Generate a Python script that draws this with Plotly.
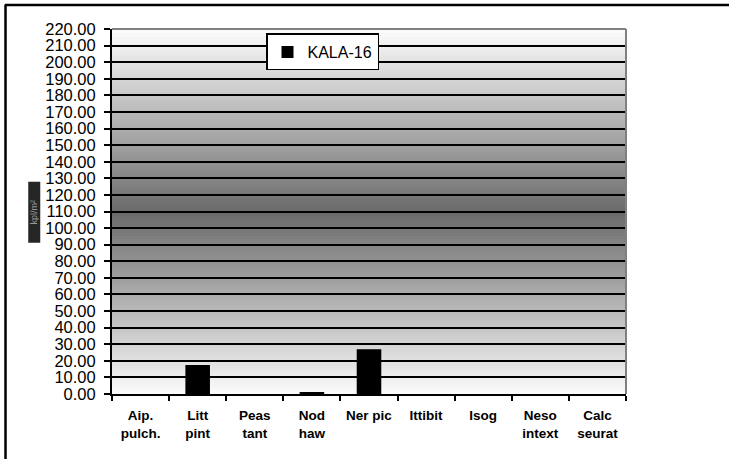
import plotly.graph_objects as go

categories = ["Aip.<br>pulch.", "Litt<br>pint", "Peas<br>tant", "Nod<br>haw", "Ner pic",
              "Ittibit", "Isog", "Neso<br>intext", "Calc<br>seurat"]
values = [0.0, 17.5, 0.0, 1.0, 26.9, 0.0, 0.0, 0.0, 0.0]
series_name = "KALA-16"
y_max = 220
y_step = 10

# plot-area geometry in pixels (for paper-coordinate conversion of decorations)
W, H = 729, 459
L, R, T, B = 112, 103, 28.5, 65
pw, ph = W - L - R, H - T - B

def px(x):
    return (x - L) / pw

def py(y):
    return (H - B - y) / ph

fig = go.Figure()
fig.add_trace(go.Bar(
    x=categories, y=values, name=series_name,
    marker=dict(color="black", line=dict(width=0)),
    width=0.43, showlegend=True,
))

shapes = []
# gradient background bands (white at edges, dark grey at centre)
band = 2
mid = y_max / 2
for i in range(0, y_max, band):
    c = i + band / 2
    t = 1 - abs(c - mid) / mid
    g = int(round(252 - (252 - 106) * t))
    shapes.append(dict(type="rect", xref="paper", yref="y", x0=0, x1=1,
                       y0=i - 0.6, y1=min(i + band + 0.6, y_max),
                       fillcolor=f"rgb({g},{g},{g})", line=dict(width=0), layer="below"))
# grey top and right borders of the plot area
shapes.append(dict(type="line", xref="paper", yref="paper", x0=0, x1=1, y0=1, y1=1,
                   line=dict(color="#808080", width=2), layer="above"))
shapes.append(dict(type="line", xref="paper", yref="paper", x0=1, x1=1, y0=0, y1=1,
                   line=dict(color="#808080", width=2), layer="above"))
# outer frame (top and left visible)
shapes.append(dict(type="line", xref="paper", yref="paper", x0=px(5), x1=px(740), y0=py(4.5), y1=py(4.5),
                   line=dict(color="black", width=2.5), layer="above"))
shapes.append(dict(type="line", xref="paper", yref="paper", x0=px(5.5), x1=px(5.5), y0=py(4), y1=py(470),
                   line=dict(color="black", width=2.5), layer="above"))

fig.update_layout(
    width=W, height=H,
    margin=dict(l=L, r=R, t=T, b=B, pad=0, autoexpand=False),
    paper_bgcolor="white",
    plot_bgcolor="white",
    font=dict(family="Liberation Sans, Arial, sans-serif", color="black"),
    shapes=shapes,
    bargap=0.57,
    legend=dict(x=px(266), y=py(33), xanchor="left", yanchor="top",
                bgcolor="white", bordercolor="black", borderwidth=1.5,
                font=dict(size=16), itemwidth=30),
    xaxis=dict(
        type="category", showline=True, linecolor="black", linewidth=2,
        ticks="outside", tickson="boundaries", ticklen=5, tickwidth=1.5, tickcolor="black",
        tickfont=dict(size=13.5, family="Liberation Sans, Arial, sans-serif", weight="bold"),
        showgrid=False, tickangle=0, ticklabelstandoff=8,
    ),
    yaxis=dict(
        range=[0, y_max], dtick=y_step, tick0=0, tickformat=".2f",
        showline=True, linecolor="black", linewidth=2,
        ticks="outside", ticklen=6, tickwidth=1.5, tickcolor="black",
        showgrid=True, gridcolor="black", gridwidth=1.5,
        tickfont=dict(size=16.5), zeroline=False, ticklabelstandoff=5,
    ),
    annotations=[dict(
        text="kpl/m²", textangle=-90, xref="paper", yref="paper",
        x=px(34), y=py(212), xanchor="center", yanchor="middle",
        showarrow=False, width=58, height=9,
        font=dict(size=9, color="#9a9a9a"), bgcolor="#262626",
        borderpad=1,
    )],
)

fig.write_html("out.html", config={"displayModeBar": False},
               post_script="document.body.style.margin='0';")
